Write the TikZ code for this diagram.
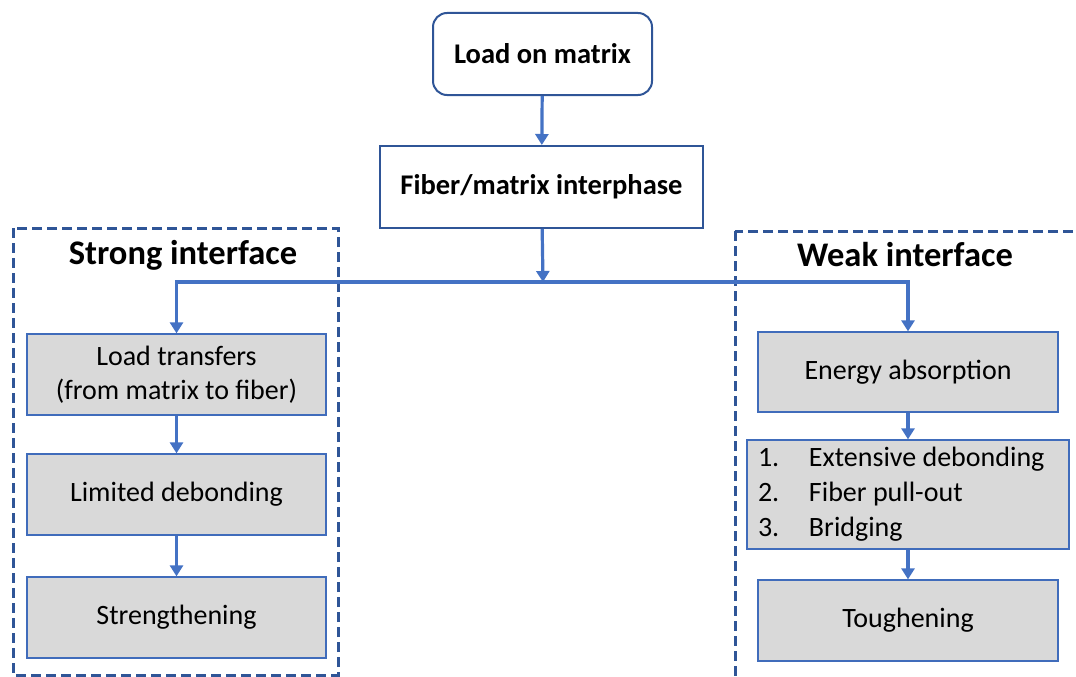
\documentclass[tikz,border=0pt]{standalone}
\usepackage{fontspec}
\setmainfont{Carlito}
\usetikzlibrary{arrows.meta}
\definecolor{arrowblue}{HTML}{4472C4}
\definecolor{darkblue}{HTML}{2F5597}
\definecolor{boxgray}{HTML}{D9D9D9}
\tikzset{
  topbox/.style={draw=darkblue, line width=2pt, fill=white, inner sep=0pt, align=center,
    font=\fontsize{28.5}{32}\selectfont\bfseries},
  graybox/.style={draw=arrowblue!80!darkblue, line width=1.3pt, fill=boxgray, inner sep=0pt, align=center,
    font=\fontsize{28}{34}\selectfont},
  groupbox/.style={draw=darkblue, line width=3pt, dash pattern=on 10pt off 5pt},
  grouptitle/.style={font=\fontsize{34.5}{40}\selectfont\bfseries},
  arr/.style={draw=arrowblue, line width=3.2pt, -{Triangle[width=13pt,length=11pt]}},
}
\begin{document}
\begin{tikzpicture}[x=1pt,y=-1pt]
\useasboundingbox (0,0) rectangle (1076,677);
% group boxes
\draw[groupbox] (13,228) rectangle (338,675);
\begin{scope}
\clip (0,0) rectangle (1076,677);
\draw[groupbox] (735,231) rectangle (1095,700);
\end{scope}
\node[grouptitle] (strongt) at (183,255) {Strong interface};
\node[grouptitle] (weakt) at (905,255) {Weak interface};
% top boxes
\node[topbox, rounded corners=14pt, minimum width=219pt, minimum height=82pt] (load) at (542.5,54) {Load on matrix};
\node[topbox, minimum width=323pt, minimum height=82pt] (fiber) at (541.5,187) {Fiber/matrix interphase};
% left column
\node[graybox, minimum width=299pt, minimum height=81pt] (transfer) at (176.5,374.5) {Load transfers\\(from matrix to fiber)};
\node[graybox, minimum width=299pt, minimum height=81pt] (limited) at (176.5,494.5) {Limited debonding};
\node[graybox, minimum width=299pt, minimum height=81pt] (strength) at (176.5,617.5) {Strengthening};
% right column
\node[graybox, minimum width=300pt, minimum height=80pt] (energy) at (908,372) {Energy absorption};
\node[graybox, minimum width=322pt, minimum height=109pt, align=flush left, text width=300pt, inner xsep=11pt,
  font=\fontsize{28}{35}\selectfont] (list) at (908,494.5)
  {\makebox[51pt][l]{1.}Extensive debonding\\\makebox[51pt][l]{2.}Fiber pull-out\\\makebox[51pt][l]{3.}Bridging};
\node[graybox, minimum width=300pt, minimum height=81pt] (tough) at (908,620.5) {Toughening};
% connectors
\coordinate (split) at (543,282);
\draw[arr] (load) -- (fiber);
\draw[arr] (fiber) -- (split);
\draw[arr] (split) -| (transfer.north);
\draw[arr] (split) -| (energy.north);
\draw[arr] (transfer) -- (limited);
\draw[arr] (limited) -- (strength);
\draw[arr] (energy) -- (list);
\draw[arr] (list) -- (tough);
\end{tikzpicture}
\end{document}
